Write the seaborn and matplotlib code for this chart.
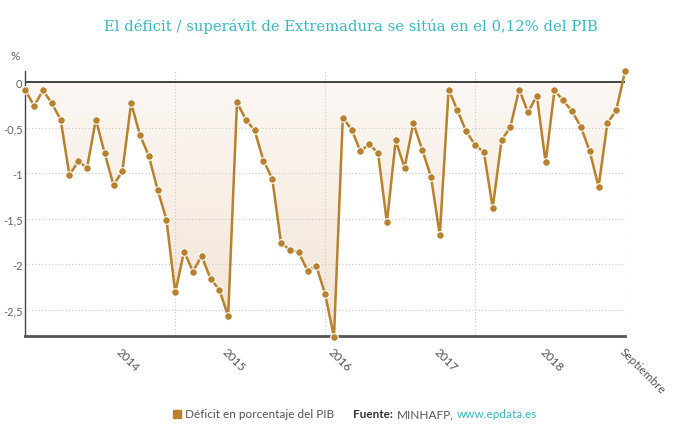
import numpy as np
import pandas as pd
import seaborn as sns
import matplotlib.pyplot as plt
from matplotlib.colors import LinearSegmentedColormap
from matplotlib.patches import Rectangle

# Déficit mensual (% del PIB), enero 2013 - septiembre 2018
deficit = [
    -0.09, -0.26, -0.09, -0.23, -0.41, -1.02, -0.87, -0.94, -0.41, -0.78, -1.13, -0.98,
    -0.23, -0.58, -0.81, -1.18, -1.51, -2.31, -1.86, -2.08, -1.91, -2.16, -2.28, -2.57,
    -0.22, -0.41, -0.53, -0.86, -1.06, -1.77, -1.84, -1.87, -2.07, -2.02, -2.33, -2.80,
    -0.39, -0.52, -0.76, -0.68, -0.78, -1.54, -0.64, -0.94, -0.45, -0.74, -1.04, -1.68,
    -0.08, -0.31, -0.54, -0.69, -0.77, -1.38, -0.64, -0.49, -0.08, -0.33, -0.15, -0.88,
    -0.09, -0.20, -0.32, -0.49, -0.76, -1.15, -0.45, -0.31, 0.12,
]
months = list(range(len(deficit)))
tick_pos = [11, 23, 35, 47, 59, 68]
tick_labels = ["2014", "2015", "2016", "2017", "2018", "Septiembre"]
y_ticks = [0, -0.5, -1, -1.5, -2, -2.5]
y_labels = ["0", "-0,5", "-1", "-1,5", "-2", "-2,5"]
vgrid = [17, 34, 51, 68]

df = pd.DataFrame({"mes": months, "deficit": deficit})

sns.set_style("white")
plt.rcParams["font.family"] = ["Lato", "DejaVu Sans"]

line_col = "#b7812d"
grey = "#666666"

fig = plt.figure(figsize=(6.9, 4.31), dpi=100)
ax = fig.add_axes([0.0367, 0.2188, 0.8691, 0.6134])
ax.set_xlim(0, 68)
ax.set_ylim(-2.785, 0.12)

# gradient area between the line and 0
poly = ax.fill_between(df["mes"], df["deficit"], 0, color="none", lw=0)
grad = np.linspace(0, 1, 256).reshape(-1, 1)
cmap = LinearSegmentedColormap.from_list("g", ["#fcf8f5", "#f3e4d6"])
img = ax.imshow(grad, extent=[0, 68, -2.785, 0.12], aspect="auto", cmap=cmap,
                origin="upper", zorder=1)
img.set_clip_path(poly.get_paths()[0], transform=ax.transData)

# grid
for y in y_ticks[1:]:
    ax.axhline(y, color="#c9c9c9", lw=0.8, ls=(0, (1, 2)), zorder=1.5)
for x in vgrid:
    ax.axvline(x, color="#c9c9c9", lw=0.8, ls=(0, (1, 2)), zorder=1.5)
ax.axhline(0, color="#333333", lw=1.3, zorder=2)

sns.lineplot(data=df, x="mes", y="deficit", ax=ax, color=line_col, lw=1.8,
             marker="o", markersize=5.5, markeredgecolor="white",
             markeredgewidth=0.8, clip_on=False, zorder=3)

for side in ["top", "right"]:
    ax.spines[side].set_visible(False)
ax.spines["left"].set_color("#444444")
ax.spines["left"].set_linewidth(1.0)
ax.spines["bottom"].set_color("#555555")
ax.spines["bottom"].set_linewidth(2.0)

ax.set_xticks(tick_pos, tick_labels)
ax.set_yticks(y_ticks, y_labels)
ax.tick_params(axis="x", length=3, width=1, color="#333333", labelsize=8.5,
               labelcolor="#555555", pad=4)
for lab in ax.get_xticklabels():
    lab.set_rotation(-45)
    lab.set_ha("left")
    lab.set_va("top")
    lab.set_rotation_mode("anchor")
ax.tick_params(axis="y", length=0, labelsize=8, labelcolor=grey, pad=2)
ax.set_xlabel("")
ax.set_ylabel("")

fig.text(15 / 690, 1 - 57 / 431, "%", ha="center", va="center", fontsize=8.5, color=grey)

fig.text(0.508, 1 - 26 / 431,
         "El déficit / superávit de Extremadura se sitúa en el 0,12% del PIB",
         ha="center", va="center", fontsize=10.6, color="#3ab7c3",
         family="DejaVu Serif")

# legend and source, chained left to right
ly = 1 - 415 / 431
fig.patches.append(Rectangle((173 / 690, 1 - 419 / 431), 8 / 690, 8 / 431,
                             transform=fig.transFigure, color=line_col))
fig.text(185 / 690, ly, "Déficit en porcentaje del PIB", ha="left", va="center",
         fontsize=8.5, color="#555555")

renderer = fig.canvas.get_renderer()
parts = [("Fuente:", "#333333", "bold", 0), ("MINHAFP,", "#555555", "normal", 4),
         ("www.epdata.es", "#3ab7c3", "normal", 3)]
x = 353
for txt, col, wt, gap in parts:
    x += gap
    t = fig.text(x / 690, ly, txt, ha="left", va="center", fontsize=8.5,
                 color=col, weight=wt)
    x += t.get_window_extent(renderer).width

fig.savefig("out.png", dpi=100)
